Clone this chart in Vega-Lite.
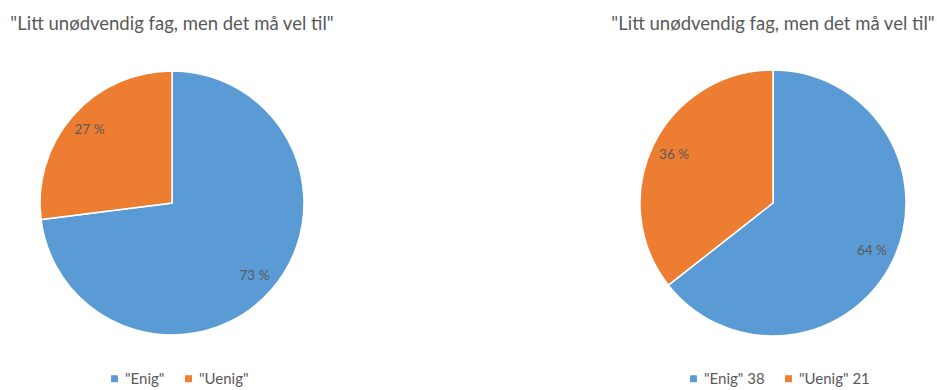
{
  "$schema": "https://vega.github.io/schema/vega-lite/v6.json",
  "padding": {"left": 8, "top": 14, "right": 0, "bottom": 0},
  "spacing": 273,
  "config": {"view": {"stroke": null}, "font": "Lato"},
  "resolve": {"scale": {"color": "independent", "theta": "independent"}, "legend": {"color": "independent"}},
  "hconcat": [
    {
      "width": 328, "height": 280,
      "title": {"text": "\"Litt unødvendig fag, men det må vel til\"", "fontSize": 18.5, "fontWeight": "normal", "color": "#595959", "anchor": "middle", "offset": 30},
      "data": {"values": [
        {"svar": "\"Enig\"", "andel": 73, "etikett": "73 %", "nr": 1},
        {"svar": "\"Uenig\"", "andel": 27, "etikett": "27 %", "nr": 2}
      ]},
      "encoding": {
        "theta": {"field": "andel", "type": "quantitative", "stack": true},
        "order": {"field": "nr", "type": "quantitative"},
        "color": {"field": "svar", "type": "nominal", "scale": {"domain": ["\"Enig\"", "\"Uenig\""], "range": ["#5B9BD5", "#ED7D31"]},
          "legend": {"orient": "none", "legendX": 99, "legendY": 308, "direction": "horizontal", "title": null, "symbolType": "square", "symbolSize": 70, "labelOffset": 3, "labelFontSize": 15, "labelColor": "#595959", "columnPadding": 16}}
      },
      "layer": [
        {"mark": {"type": "arc", "outerRadius": 132, "stroke": "white", "strokeWidth": 1.5}},
        {"mark": {"type": "text", "radius": 110, "fontSize": 13.5}, "encoding": {"text": {"field": "etikett"}, "color": {"value": "#595959"}}}
      ]
    },
    {
      "width": 328, "height": 280,
      "title": {"text": "\"Litt unødvendig fag, men det må vel til\"", "fontSize": 18.5, "fontWeight": "normal", "color": "#595959", "anchor": "middle", "offset": 30},
      "data": {"values": [
        {"svar": "\"Enig\" 38", "andel": 38, "etikett": "64 %", "nr": 1},
        {"svar": "\"Uenig\" 21", "andel": 21, "etikett": "36 %", "nr": 2}
      ]},
      "encoding": {
        "theta": {"field": "andel", "type": "quantitative", "stack": true},
        "order": {"field": "nr", "type": "quantitative"},
        "color": {"field": "svar", "type": "nominal", "scale": {"domain": ["\"Enig\" 38", "\"Uenig\" 21"], "range": ["#5B9BD5", "#ED7D31"]},
          "legend": {"orient": "none", "legendX": 77, "legendY": 308, "direction": "horizontal", "title": null, "symbolType": "square", "symbolSize": 70, "labelOffset": 3, "labelFontSize": 15, "labelColor": "#595959", "columnPadding": 16}}
      },
      "layer": [
        {"mark": {"type": "arc", "outerRadius": 133, "stroke": "white", "strokeWidth": 1.5}},
        {"mark": {"type": "text", "radius": 110, "fontSize": 13.5}, "encoding": {"text": {"field": "etikett"}, "color": {"value": "#595959"}}}
      ]
    }
  ]
}
